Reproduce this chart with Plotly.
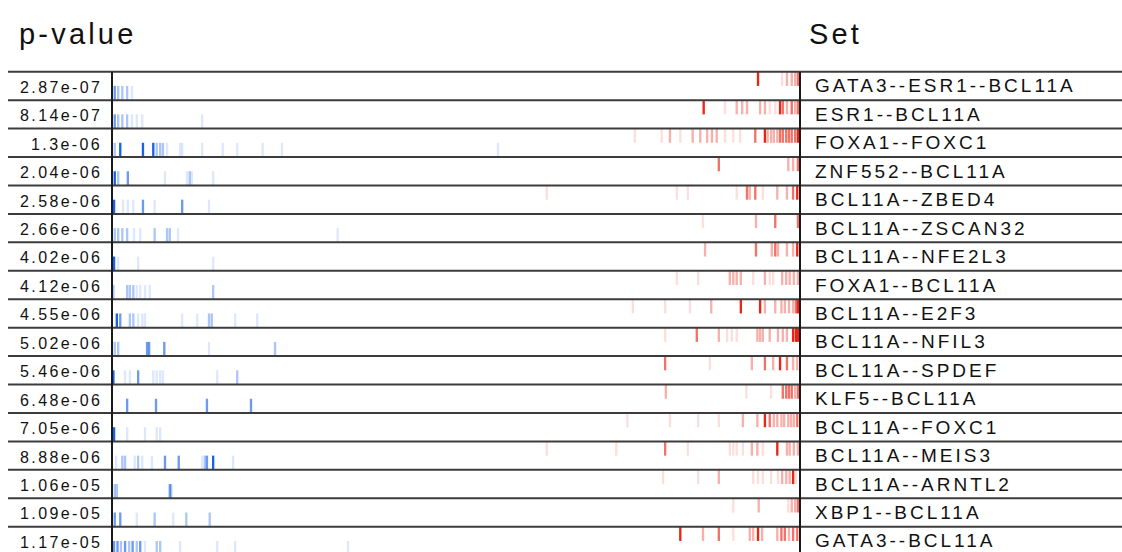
import plotly.graph_objects as go

# Gene sets ranked by p-value
set_names = [
    "GATA3--ESR1--BCL11A", "ESR1--BCL11A", "FOXA1--FOXC1", "ZNF552--BCL11A",
    "BCL11A--ZBED4", "BCL11A--ZSCAN32", "BCL11A--NFE2L3", "FOXA1--BCL11A",
    "BCL11A--E2F3", "BCL11A--NFIL3", "BCL11A--SPDEF", "KLF5--BCL11A",
    "BCL11A--FOXC1", "BCL11A--MEIS3", "BCL11A--ARNTL2", "XBP1--BCL11A",
    "GATA3--BCL11A",
]
p_values = [
    "2.87e-07", "8.14e-07", "1.3e-06", "2.04e-06", "2.58e-06", "2.66e-06",
    "4.02e-06", "4.12e-06", "4.55e-06", "5.02e-06", "5.46e-06", "6.48e-06",
    "7.05e-06", "8.88e-06", "1.06e-05", "1.09e-05", "1.17e-05",
]

# Hits of each set in the ranked list (rank 0..1000), with hit strength 1..4.
# Down-regulated hits (blue, bottom half of each row)
down_hits = [
    [(4, 3), (9, 2), (15, 2), (22, 2), (29, 1)],
    [(4, 3), (9, 2), (15, 2), (22, 2), (29, 1), (36, 1), (44, 1), (131, 1)],
    [(4, 2), (12, 4), (45, 4), (60, 4), (65, 2), (70, 2), (74, 2), (80, 1), (99, 1),
     (102, 1), (131, 1), (161, 1), (182, 1), (219, 1), (247, 1), (561, 1)],
    [(4, 4), (9, 2), (23, 3), (77, 1), (109, 1), (113, 2), (116, 1), (147, 1)],
    [(3, 4), (16, 1), (23, 1), (31, 1), (45, 3), (62, 1), (102, 3), (141, 1)],
    [(4, 2), (9, 2), (15, 2), (22, 2), (32, 1), (41, 1), (62, 2), (80, 2), (84, 2),
     (96, 1), (328, 1)],
    [(3, 4), (9, 1), (38, 1), (147, 1)],
    [(2, 2), (22, 2), (26, 2), (31, 2), (36, 1), (41, 1), (48, 1), (55, 1), (147, 2)],
    [(7, 4), (12, 3), (26, 2), (31, 2), (38, 1), (44, 1), (48, 1), (102, 1), (124, 1),
     (141, 2), (145, 2), (179, 1), (211, 1)],
    [(4, 2), (9, 2), (51, 3), (54, 3), (76, 3), (141, 1), (237, 2)],
    [(2, 4), (19, 1), (26, 1), (38, 3), (60, 1), (65, 1), (70, 1), (74, 1), (153, 1),
     (182, 2)],
    [(22, 3), (64, 3), (138, 3), (202, 3)],
    [(3, 4), (22, 1), (48, 1), (65, 1), (70, 1)],
    [(6, 1), (15, 2), (19, 2), (33, 1), (38, 2), (44, 1), (58, 1), (77, 3), (97, 3),
     (131, 1), (135, 2), (138, 3), (147, 4), (176, 1)],
    [(4, 2), (7, 2), (84, 3), (86, 2)],
    [(4, 3), (12, 3), (36, 1), (62, 2), (89, 1), (108, 2), (142, 2)],
    [(3, 3), (8, 3), (13, 2), (19, 3), (25, 2), (30, 3), (36, 2), (41, 3), (48, 1),
     (65, 2), (70, 2), (99, 1), (153, 1), (179, 1), (343, 1)],
]
# Up-regulated hits (red, top half of each row)
up_hits = [
    [(939, 4), (974, 1), (981, 2), (988, 2), (993, 2), (997, 3)],
    [(860, 4), (891, 1), (908, 2), (916, 2), (923, 2), (942, 2), (949, 2), (956, 1),
     (964, 1), (971, 4), (975, 3), (981, 2), (988, 3), (993, 2), (997, 3)],
    [(760, 1), (799, 1), (811, 2), (826, 1), (844, 2), (855, 2), (865, 2), (872, 2),
     (879, 2), (891, 1), (903, 1), (913, 1), (935, 3), (949, 4), (953, 2), (958, 2),
     (962, 2), (967, 2), (971, 3), (975, 3), (980, 3), (984, 3), (988, 3), (993, 3),
     (997, 4)],
    [(882, 3), (983, 2), (990, 2), (997, 3)],
    [(632, 1), (821, 1), (837, 1), (908, 1), (923, 3), (927, 2), (935, 3), (946, 1),
     (967, 2), (981, 2), (990, 3), (996, 4)],
    [(859, 1), (936, 2), (964, 3), (997, 3)],
    [(862, 2), (936, 3), (959, 2), (964, 3), (968, 2), (981, 2), (990, 2), (996, 4)],
    [(821, 1), (852, 1), (898, 2), (903, 2), (908, 2), (914, 2), (932, 1), (949, 2),
     (956, 1), (961, 1), (974, 2), (980, 2), (985, 2), (991, 2), (997, 2)],
    [(757, 1), (804, 1), (840, 1), (871, 2), (914, 4), (942, 4), (949, 2), (964, 2),
     (973, 2), (978, 2), (984, 2), (990, 2), (994, 3), (997, 4)],
    [(804, 1), (850, 3), (882, 2), (894, 1), (901, 1), (908, 1), (938, 2), (942, 2),
     (946, 2), (956, 2), (968, 2), (975, 2), (981, 2), (990, 4), (994, 4), (997, 4)],
    [(804, 3), (869, 1), (930, 2), (949, 3), (961, 2), (971, 4), (981, 3), (990, 2),
     (996, 2)],
    [(805, 2), (922, 1), (958, 1), (975, 3), (980, 3), (984, 3), (988, 3), (993, 2),
     (997, 3)],
    [(749, 1), (811, 1), (852, 1), (882, 1), (917, 2), (938, 2), (949, 4), (956, 3),
     (962, 2), (967, 2), (973, 2), (977, 2), (983, 2), (987, 2), (991, 2), (996, 3)],
    [(632, 1), (733, 1), (804, 3), (837, 1), (898, 1), (903, 1), (908, 1), (917, 1),
     (930, 2), (938, 2), (946, 1), (967, 4), (981, 2), (985, 2), (991, 2), (997, 2)],
    [(801, 1), (852, 1), (882, 2), (932, 1), (939, 1), (946, 1), (958, 1), (968, 1),
     (974, 2), (980, 2), (985, 2), (990, 4), (994, 1)],
    [(903, 1), (940, 2), (983, 1), (988, 2), (993, 2), (997, 3)],
    [(826, 4), (859, 2), (882, 3), (903, 1), (927, 2), (932, 2), (939, 4), (945, 2),
     (967, 2), (973, 3), (978, 3), (984, 2), (990, 3), (996, 3)],
]

N_RANK = 1000
PX_PER_RANK = 0.688        # barcode strip is 688 px wide
STRIP_LEFT_PX = 112
FIG_W, FIG_H = 1122, 552
TOP_PX = 70
ROW_PX = 28.44

ALPHA = {1: 0.14, 2: 0.35, 3: 0.62, 4: 0.97}
BLUE = (18, 92, 232)
RED = (236, 28, 12)


def rgba(c, a):
    return f"rgba({c[0]},{c[1]},{c[2]},{a})"


def hit_bars(hits, color, offset):
    xs, bases, cols = [], [], []
    for row, row_hits in enumerate(hits):
        for rank, strength in row_hits:
            xs.append(rank)
            bases.append(row + offset)
            cols.append(rgba(color, ALPHA[strength]))
    return go.Bar(
        x=xs, y=[0.5] * len(xs), base=bases, width=3.4,
        marker=dict(color=cols, line=dict(width=0)),
        hoverinfo="skip", showlegend=False,
    )


fig = go.Figure()
fig.add_trace(hit_bars(up_hits, RED, 0.0))
fig.add_trace(hit_bars(down_hits, BLUE, 0.5))

x_min = -STRIP_LEFT_PX / PX_PER_RANK
x_max = (FIG_W - STRIP_LEFT_PX) / PX_PER_RANK
y_top = -1.7 / ROW_PX
y_bot = y_top + (FIG_H - TOP_PX) / ROW_PX

n_rows = len(set_names)
line_col = "#3c3c3c"
shapes = []
for k in range(n_rows + 1):
    shapes.append(dict(type="line", xref="x", yref="y",
                       x0=(8 - STRIP_LEFT_PX) / PX_PER_RANK, x1=x_max, y0=k, y1=k,
                       line=dict(color=line_col, width=2)))
for xv in (0, N_RANK):
    shapes.append(dict(type="line", xref="x", yref="y",
                       x0=xv, x1=xv, y0=0, y1=n_rows + 1,
                       line=dict(color="#1a1a1a", width=2)))

txt_col = "#111111"
FONT = "Liberation Sans, Arial, sans-serif"


def spaced(s, px):
    return f"<span style='letter-spacing:{px}px'>{s}</span>"


annotations = []
for k in range(n_rows):
    annotations.append(dict(
        x=(104 - STRIP_LEFT_PX) / PX_PER_RANK, y=k + 0.55, xref="x", yref="y",
        text=spaced(p_values[k], 2.4), showarrow=False, xanchor="right", yanchor="middle",
        font=dict(family=FONT, size=16, color=txt_col)))
    annotations.append(dict(
        x=(813 - STRIP_LEFT_PX) / PX_PER_RANK, y=k + 0.5, xref="x", yref="y",
        text=spaced(set_names[k], 3.0), showarrow=False, xanchor="left", yanchor="middle",
        font=dict(family=FONT, size=19, color=txt_col)))

for label, px in (("p-value", 17), ("Set", 807)):
    annotations.append(dict(
        x=px / FIG_W, y=(FIG_H - 34) / (FIG_H - TOP_PX), xref="paper", yref="paper",
        text=spaced(label, 3.2), showarrow=False, xanchor="left", yanchor="middle",
        font=dict(family=FONT, size=29, color=txt_col)))

fig.update_layout(
    width=FIG_W, height=FIG_H,
    margin=dict(l=0, r=0, t=TOP_PX, b=0, pad=0),
    paper_bgcolor="white", plot_bgcolor="white",
    barmode="overlay",
    xaxis=dict(range=[x_min, x_max], visible=False, fixedrange=True),
    yaxis=dict(range=[y_bot, y_top], visible=False, fixedrange=True),
    shapes=shapes, annotations=annotations,
)

fig.write_html("out.html")
